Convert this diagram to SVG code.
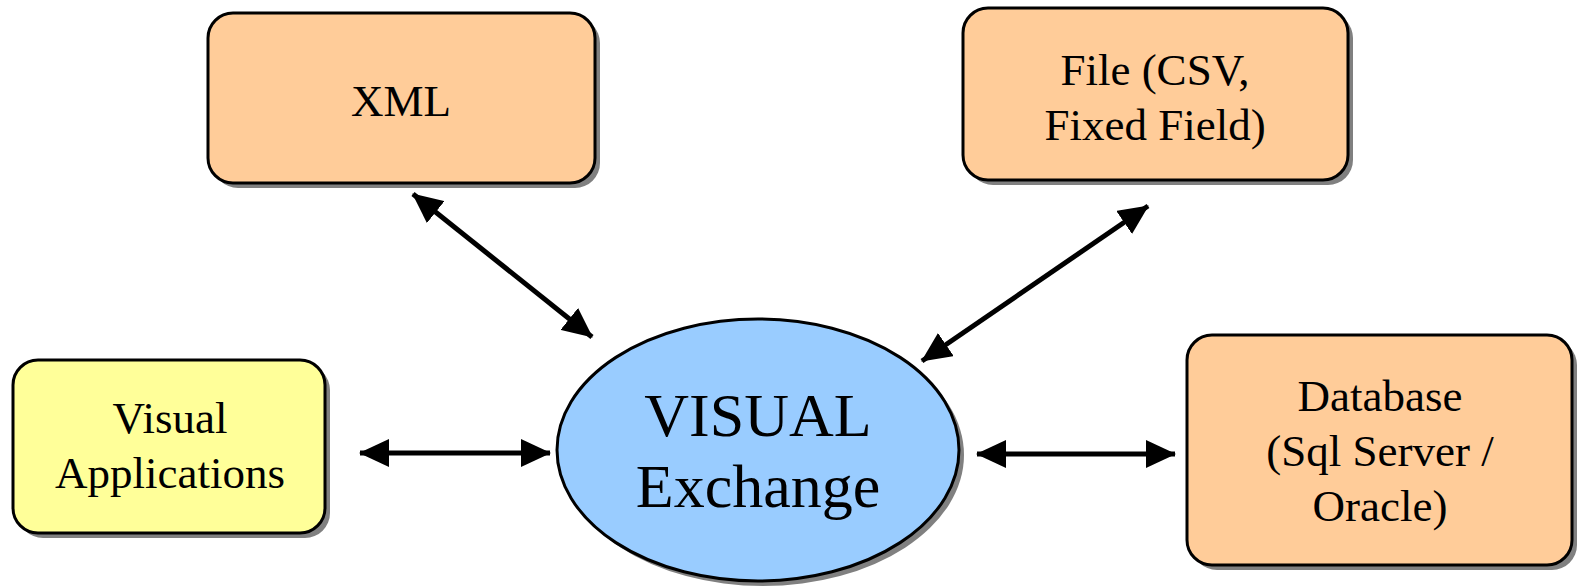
<svg xmlns="http://www.w3.org/2000/svg" width="1579" height="587" viewBox="0 0 1579 587">
<style>
.shadow { fill: #808080; stroke: none; }
.box { stroke: #000; stroke-width: 3; }
.orange { fill: #FFCC99; }
.yellow { fill: #FFFF99; }
.blue { fill: #99CCFF; }
.lbl { font-family: "Liberation Serif", "Times New Roman", serif; font-size: 45px; fill: #000; text-anchor: middle; }
.big { font-size: 62px; }
.conn { stroke: #000; stroke-width: 5; fill: none; marker-start: url(#ah); marker-end: url(#ah); }
</style>
<defs>
<marker id="ah" viewBox="0 0 30 28" refX="29" refY="14" markerWidth="30" markerHeight="28" markerUnits="userSpaceOnUse" orient="auto-start-reverse">
<path d="M0,0 L30,14 L0,28 z" fill="#000"/>
</marker>
</defs>
<rect width="1579" height="587" fill="#fff"/>
<g id="node-xml">
<rect class="shadow" x="213" y="18" width="387" height="170" rx="25"/>
<rect class="box orange" x="208" y="13" width="387" height="170" rx="25"/>
<text class="lbl" x="401" y="116">XML</text>
</g>
<g id="node-file">
<rect class="shadow" x="968" y="13" width="385" height="172" rx="25"/>
<rect class="box orange" x="963" y="8" width="385" height="172" rx="25"/>
<text class="lbl" x="1155" y="85">File (CSV,</text>
<text class="lbl" x="1155" y="140">Fixed Field)</text>
</g>
<g id="node-apps">
<rect class="shadow" x="18" y="365" width="312" height="173" rx="25"/>
<rect class="box yellow" x="13" y="360" width="312" height="173" rx="25"/>
<text class="lbl" x="170" y="433">Visual</text>
<text class="lbl" x="170" y="488">Applications</text>
</g>
<g id="node-db">
<rect class="shadow" x="1192" y="340" width="385" height="230" rx="25"/>
<rect class="box orange" x="1187" y="335" width="385" height="230" rx="25"/>
<text class="lbl" x="1380" y="411">Database</text>
<text class="lbl" x="1380" y="466">(Sql Server /</text>
<text class="lbl" x="1380" y="521">Oracle)</text>
</g>
<g id="node-exchange">
<ellipse class="shadow" cx="763" cy="455" rx="201" ry="131"/>
<ellipse class="box blue" cx="758" cy="450" rx="201" ry="131"/>
<text class="lbl big" x="758" y="436">VISUAL</text>
<text class="lbl big" x="758" y="507">Exchange</text>
</g>
<g id="connectors">
<line class="conn" x1="413" y1="194" x2="592" y2="337"/>
<line class="conn" x1="1148" y1="206" x2="922" y2="361"/>
<line class="conn" x1="360" y1="453" x2="550" y2="453"/>
<line class="conn" x1="977" y1="454" x2="1175" y2="454"/>
</g>
</svg>
